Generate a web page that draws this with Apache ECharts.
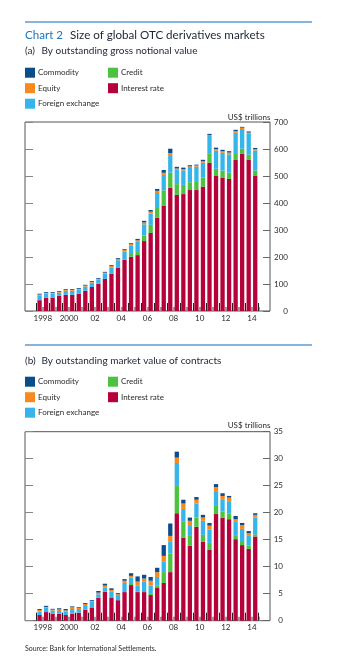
<!DOCTYPE html>
<html>
<head>
<meta charset="utf-8">
<script src="https://cdn.jsdelivr.net/npm/echarts@6/dist/echarts.min.js"></script>
<style>
html,body{margin:0;padding:0;background:#fff;}
#chart{width:342px;height:662px;}
</style>
</head>
<body>
<div id="chart"></div>
<script>
// ---------- categories ----------
const periods = ['Jun 1998','Dec 1998','Jun 1999','Dec 1999','Jun 2000','Dec 2000','Jun 2001','Dec 2001',
  'Jun 2002','Dec 2002','Jun 2003','Dec 2003','Jun 2004','Dec 2004','Jun 2005','Dec 2005','Jun 2006','Dec 2006',
  'Jun 2007','Dec 2007','Jun 2008','Dec 2008','Jun 2009','Dec 2009','Jun 2010','Dec 2010','Jun 2011','Dec 2011',
  'Jun 2012','Dec 2012','Jun 2013','Dec 2013','Jun 2014','Dec 2014'];
const years = ['1998','1999','2000','2001','2002','2003','2004','2005','2006','2007','2008','2009','2010','2011','2012','2013','2014'];
const yearLabels = ['1998','','2000','','02','','04','','06','','08','','10','','12','','14'];

// ---------- (a) gross notional value, US$ trillions ----------
const notionalInterestRate = [40,49,50,57,60,60,64,75,89,101,119,138,161,190,201,207,259,289,346,389,457,430,433,448,448,461,549,500,494,489,559,582,561,500];
const notionalCredit = [0,0,0,0,0,0,0,0,0,0,0,0,0,0,10,15,20,30,39,58,55,40,34,29,30,33,33,27,26,23,26,19,18,20];
const notionalFX = [18,15,14,11,15,15,15,16,16,15,19,24,27,31,32,34,42,42,52,57,62,53,54,56,57,55,66,67,66,68,75,73,77,74];
const notionalEquity = [3,3,3,3,3,3,3,3,3,3,4,5,5,5,5,6,7,7,8,8,11,5,4,3,4,6,4,6,6,7,6,5,5,6];
const notionalCommodity = [3,3,3,3,3,3,3,3,3,3,3,3,3,3,3,5,6,6,7,10,16,6,6,4,3,5,4,5,5,5,5,3,4,4];
const notionalTicks = [0,100,200,300,400,500,600,700];

// ---------- (b) market value, US$ trillions ----------
const marketInterestRate = [1.05,1.6,1.3,1.3,1.05,1.3,1.5,2.0,2.35,4.25,5.35,4.2,3.8,5.3,6.6,5.3,5.3,4.75,6.05,7.0,9.0,19.9,15.4,13.9,17.4,14.6,13.1,19.75,19.1,18.8,15.1,14.0,13.3,15.6];
const marketCredit = [0,0,0,0,0,0,0,0,0,0,0,0,0,0,0.2,0.15,0.2,0.35,0.5,2.0,3.4,5.2,2.9,1.8,1.7,1.3,1.3,1.65,1.1,1.0,0.6,0.75,0.65,0.4];
const marketFX = [0.62,0.8,0.6,0.5,0.62,0.86,0.66,0.9,1.15,0.65,0.75,1.15,0.95,1.7,1.2,1.1,1.7,1.4,1.55,1.9,2.2,4.1,2.4,2.0,2.6,2.6,2.5,2.6,2.3,2.2,2.6,2.25,1.75,3.1];
const marketEquity = [0.31,0.15,0.15,0.3,0.23,0.34,0.24,0.2,0.14,0.3,0.4,0.35,0.15,0.4,0.3,0.7,0.6,0.9,0.9,1.1,1.1,1.0,1.0,0.8,0.7,0.6,0.7,0.75,0.6,0.8,0.5,0.7,0.5,0.5];
const marketCommodity = [0.18,0.2,0.15,0.2,0.26,0.15,0.13,0.17,0.16,0.3,0.35,0.3,0.2,0.3,0.5,0.95,0.7,0.7,0.8,2.0,2.3,1.1,0.7,0.6,0.5,0.5,0.5,0.55,0.5,0.3,0.6,0.4,0.4,0.3];
const marketTicks = [0,5,10,15,20,25,30,35];

// ---------- styling ----------
const FONT = 'Lato, "Open Sans", sans-serif';
const COLORS = {
  'Interest rate': '#b5023b',
  'Credit': '#4cc23e',
  'Foreign exchange': '#36b5ea',
  'Equity': '#f7891f',
  'Commodity': '#0b4d8b'
};
const TEXT = '#2b2b2b';
const DARK = '#1d2433';

const chart = echarts.init(document.getElementById('chart'), null, {renderer: 'canvas'});

function panelAxes(frameGrid, barGrid, ticks, labelMargin) {
  const min = ticks[0], max = ticks[ticks.length - 1], step = ticks[1] - ticks[0];
  const xAxes = [
    {gridIndex: frameGrid, type: 'category', show: false, data: ['']},
    {gridIndex: barGrid, type: 'category', data: periods, boundaryGap: true, position: 'bottom',
      axisLine: {show: false, onZero: false},
      axisTick: {show: true, inside: true, length: 4, interval: function (i) { return i % 2 === 1; },
        lineStyle: {color: '#9a9a9a', width: 2}},
      axisLabel: {show: false}, splitLine: {show: false}},
    {gridIndex: barGrid, type: 'category', data: years, boundaryGap: true, position: 'bottom',
      axisLine: {show: false, onZero: false},
      axisTick: {show: true, inside: true, length: 8, interval: 0, lineStyle: {color: '#222', width: 1}},
      axisLabel: {show: true, interval: 0, margin: 3, fontSize: 8, fontFamily: FONT, color: TEXT,
        formatter: function (v, i) { return yearLabels[i]; }},
      splitLine: {show: false}}
  ];
  const yAxes = [
    {gridIndex: frameGrid, type: 'value', position: 'right', min: min, max: max, interval: step,
      axisLine: {show: false, onZero: false},
      axisTick: {show: true, inside: true, length: 7, lineStyle: {color: '#666', width: 1}},
      axisLabel: {show: true, align: 'right', margin: labelMargin, fontSize: 8, fontFamily: FONT, color: TEXT},
      splitLine: {show: false}},
    {gridIndex: frameGrid, type: 'value', position: 'left', min: min, max: max, interval: step,
      axisLine: {show: false, onZero: false},
      axisTick: {show: true, inside: true, length: 8, lineStyle: {color: '#888', width: 1}},
      axisLabel: {show: false}, splitLine: {show: false}},
    {gridIndex: barGrid, type: 'value', show: false, min: min, max: max,
      axisLine: {show: false, onZero: false}, splitLine: {show: false}}
  ];
  return {xAxes, yAxes};
}

const A = panelAxes(0, 1, notionalTicks, 18);
const B = panelAxes(2, 3, marketTicks, 13);

function stackSeries(prefix, xIdx, yIdx, data) {
  return [
    ['Interest rate', data.ir], ['Credit', data.cr], ['Foreign exchange', data.fx],
    ['Equity', data.eq], ['Commodity', data.com]
  ].map(function (p) {
    return {
      name: p[0], type: 'bar', stack: prefix, xAxisIndex: xIdx, yAxisIndex: yIdx,
      data: p[1], barWidth: 4.3, itemStyle: {color: COLORS[p[0]]},
      emphasis: {disabled: true}, animation: false
    };
  });
}

const legendBase = {
  orient: 'vertical', itemWidth: 10, itemHeight: 10, itemGap: 5.5, icon: 'rect',
  selectedMode: false, padding: 0,
  textStyle: {fontSize: 8, fontFamily: FONT, color: TEXT, padding: [0, 0, 0, -2]}
};

function rule(y) {
  return {type: 'line', shape: {x1: 25, y1: y, x2: 312, y2: y}, style: {stroke: '#5b9bd5', lineWidth: 1.3}};
}
function txt(x, y, text, size, color, align, weight) {
  return {type: 'text', x: x, y: y, style: {text: text, fill: color, textAlign: align || 'left',
    textVerticalAlign: 'middle', font: (weight || 'normal') + ' ' + size + 'px ' + FONT}};
}

const option = {
  backgroundColor: '#fff',
  animation: false,
  grid: [
    {left: 25, top: 122, width: 245, height: 189, show: true, borderColor: '#555', borderWidth: 1, backgroundColor: 'transparent'},
    {left: 36.3, top: 122, width: 222.2, height: 189},
    {left: 25, top: 431.7, width: 245, height: 189, show: true, borderColor: '#555', borderWidth: 1, backgroundColor: 'transparent'},
    {left: 36.3, top: 431.7, width: 222.2, height: 189}
  ],
  xAxis: A.xAxes.concat(B.xAxes),
  yAxis: A.yAxes.concat(B.yAxes),
  legend: [
    Object.assign({}, legendBase, {left: 25, top: 67.7, data: ['Commodity', 'Equity', 'Foreign exchange']}),
    Object.assign({}, legendBase, {left: 108, top: 67.7, data: ['Credit', 'Interest rate']}),
    Object.assign({}, legendBase, {left: 25, top: 376.7, data: ['Commodity', 'Equity', 'Foreign exchange']}),
    Object.assign({}, legendBase, {left: 108, top: 376.7, data: ['Credit', 'Interest rate']})
  ],
  series: stackSeries('a', 1, 2, {ir: notionalInterestRate, cr: notionalCredit, fx: notionalFX, eq: notionalEquity, com: notionalCommodity})
    .concat(stackSeries('b', 4, 5, {ir: marketInterestRate, cr: marketCredit, fx: marketFX, eq: marketEquity, com: marketCommodity})),
  graphic: [
    rule(22),
    rule(345),
    txt(25, 35, 'Chart 2', 11.6, '#1b75bc'),
    txt(70, 35, 'Size of global OTC derivatives markets', 11.6, DARK),
    txt(25, 51, '(a)', 10, DARK),
    txt(41.5, 51, 'By outstanding gross notional value', 10, DARK),
    txt(270.5, 117, 'US$ trillions', 8, TEXT, 'right'),
    txt(25, 360.7, '(b)', 10, DARK),
    txt(41.5, 360.7, 'By outstanding market value of contracts', 10, DARK),
    txt(270.5, 425.7, 'US$ trillions', 8, TEXT, 'right'),
    txt(25, 648.3, 'Source: Bank for International Settlements.', 7, TEXT)
  ]
};
chart.setOption(option);
</script>
</body>
</html>
